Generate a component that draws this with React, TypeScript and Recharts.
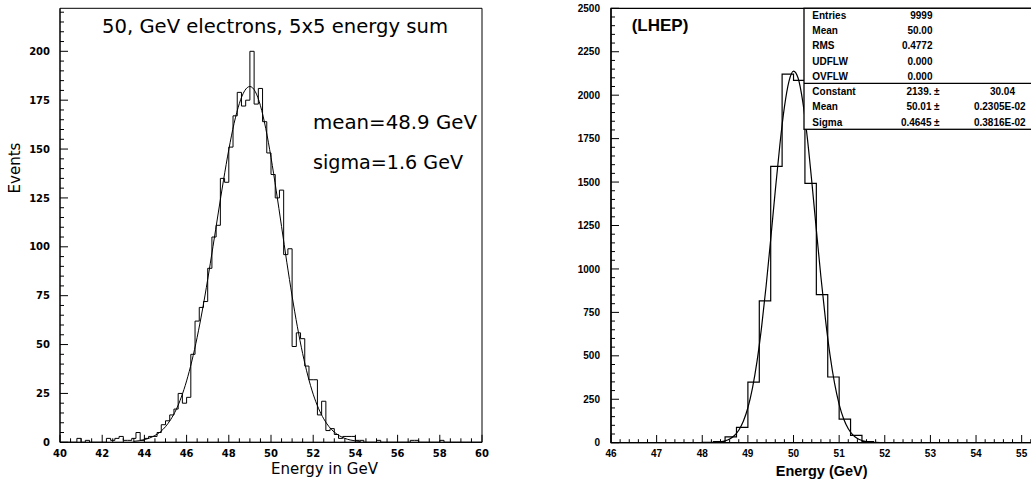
import React from 'react';
import { LineChart, Line, XAxis, YAxis, ReferenceArea } from 'recharts';

// left panel: 50 GeV electrons, 5x5 sum, 0.2 GeV bins from 40 to 60
const leftBinStart = 40;
const leftBinWidth = 0.2;
const leftCounts = [
  0, 0, 0, 0, 2, 0, 1, 0, 0, 0,
  0, 2, 1, 2, 3, 1, 1, 2, 5, 1,
  2, 3, 3, 5, 9, 11, 14, 17, 25, 20,
  23, 45, 62, 69, 72, 89, 105, 111, 135, 133,
  151, 167, 179, 172, 175, 200, 173, 181, 164, 148,
  137, 125, 129, 96, 99, 49, 56, 53, 39, 32,
  32, 14, 21, 6, 7, 4, 2, 3, 3, 3,
  1, 1, 0, 0, 0, 1, 0, 0, 0, 0,
  0, 0, 0, 1, 1, 0, 0, 0, 0, 0,
  1, 0, 0, 0, 0, 0, 0, 0, 0, 0,
];

// fitted curve
const leftFitX = [
  43.5, 43.75, 44, 44.25, 44.5, 44.75, 45, 45.25, 45.5, 45.75,
  46, 46.25, 46.5, 46.75, 47, 47.25, 47.5, 47.75, 48, 48.25,
  48.5, 48.75, 49, 49.25, 49.5, 49.75, 50, 50.25, 50.5, 50.75,
  51, 51.25, 51.5, 51.75, 52, 52.25, 52.5, 52.75, 53, 53.25,
  53.5, 53.75, 54, 54.25,
];
const leftFitY = [
  0.5, 0.8, 1.4, 2.2, 3.5, 5.3, 8.0, 11.7, 16.6, 23.1,
  31.4, 41.6, 53.7, 67.7, 83.3, 100.1, 117.3, 134.1, 149.7, 163.1,
  173.3, 179.8, 182, 179.5, 172.2, 160.6, 145.7, 128.6, 110.4, 92.1,
  74.8, 59.1, 45.4, 33.9, 24.6, 17.4, 12.0, 8.0, 5.2, 3.3,
  2.0, 1.2, 0.7, 0.4,
];

const leftXLabels = [40, 42, 44, 46, 48, 50, 52, 54, 56, 58, 60];
const leftYLabels = [0, 25, 50, 75, 100, 125, 150, 175, 200];

// right panel: (LHEP), 0.25 GeV bins from 46 to 56
const rightBinStart = 46;
const rightBinWidth = 0.25;
const rightCounts = [
  0, 0, 0, 0, 0, 0, 0, 1, 2, 6,
  33, 88, 349, 816, 1590, 2121, 2085, 1492, 852, 378,
  136, 42, 6, 1, 1, 0, 0, 0, 0, 0,
  0, 0, 0, 0, 0, 0, 0, 0, 0, 0,
];

const rightFitX = [
  48.0, 48.1, 48.2, 48.3, 48.4, 48.5, 48.6, 48.7, 48.8, 48.9,
  49.0, 49.1, 49.2, 49.3, 49.4, 49.5, 49.6, 49.7, 49.8, 49.9,
  50.0, 50.1, 50.2, 50.3, 50.4, 50.5, 50.6, 50.7, 50.8, 50.9,
  51.0, 51.1, 51.2, 51.3, 51.4, 51.5, 51.6, 51.7, 51.8, 51.9,
  52.0,
];
const rightFitY = [
  0.2, 0.5, 1.1, 2.4, 5.3, 10.8, 21.3, 40.1, 71.9, 123,
  201, 314, 468, 665, 903, 1171, 1449, 1712, 1931, 2080,
  2139, 2099, 1967, 1760, 1504, 1226, 955, 710, 504, 341,
  221, 136, 80, 45, 24, 12.5, 6.1, 2.9, 1.3, 0.55,
  0.22,
];

const rightXLabels = [46, 47, 48, 49, 50, 51, 52, 53, 54, 55];
const rightYLabels = [0, 250, 500, 750, 1000, 1250, 1500, 1750, 2000, 2250, 2500];

const statsLabels = ['Entries', 'Mean', 'RMS', 'UDFLW', 'OVFLW'];
const statsValues = ['9999', '50.00', '0.4772', '0.000', '0.000'];
const fitLabels = ['Constant', 'Mean', 'Sigma'];
const fitValues = ['2139.', '50.01', '0.4645'];
const fitErrors = ['30.04', '0.2305E-02', '0.3816E-02'];

const toSteps = (start: number, width: number, counts: number[]) => {
  const pts = counts.map((c, i) => ({ x: +(start + i * width).toFixed(3), y: c }));
  pts.push({ x: +(start + counts.length * width).toFixed(3), y: counts[counts.length - 1] });
  return pts;
};

const toPoints = (xs: number[], ys: number[]) => xs.map((x, i) => ({ x, y: ys[i] }));

const tickRange = (from: number, to: number, step: number) => {
  const out: number[] = [];
  const n = Math.round((to - from) / step);
  for (let i = 0; i <= n; i++) out.push(+(from + i * step).toFixed(3));
  return out;
};

const isIn = (list: number[], v: number) => list.some((l) => Math.abs(l - v) < 1e-6);

const makeXTick = (labels: number[], major: number, minor: number, font: any) => (props: any) => {
  const { x, y, payload } = props;
  const v = payload.value;
  const big = isIn(labels, v);
  return (
    <g>
      <line x1={x} x2={x} y1={y} y2={y - (big ? major : minor)} stroke="#000" strokeWidth={1} />
      {big && (
        <text x={x} y={y + 14.5} textAnchor="middle" fill="#000" {...font}>
          {v}
        </text>
      )}
    </g>
  );
};

const makeYTick = (labels: number[], major: number, minor: number, gap: number, font: any) => (props: any) => {
  const { x, y, payload } = props;
  const v = payload.value;
  const big = isIn(labels, v);
  return (
    <g>
      <line x1={x} x2={x + (big ? major : minor)} y1={y} y2={y} stroke="#000" strokeWidth={1} />
      {big && (
        <text x={x - gap} y={y + 3.6} textAnchor="end" fill="#000" {...font}>
          {v}
        </text>
      )}
    </g>
  );
};

const leftFont = { fontFamily: 'DejaVu Sans', fontWeight: 'bold', fontSize: 10 };
const rightFont = { fontFamily: 'Liberation Sans', fontWeight: 'bold', fontSize: 10 };

const leftHist = toSteps(leftBinStart, leftBinWidth, leftCounts);
const leftFit = toPoints(leftFitX, leftFitY);
const rightHist = toSteps(rightBinStart, rightBinWidth, rightCounts);
const rightFit = toPoints(rightFitX, rightFitY);

const statsFont = { fontFamily: 'Liberation Sans', fontWeight: 'bold' as const, fontSize: 10 };

export default function App() {
  const rowY = [19.3, 34.3, 49.3, 64.6, 79.9];
  const fitRowY = [94.9, 110.3, 125.9];

  return (
    <div style={{ position: 'absolute', left: 0, top: 0, width: 1031, height: 485, overflow: 'hidden', background: '#fff' }}>
      <div style={{ position: 'absolute', left: 0, top: 0 }}>
        <LineChart width={500} height={485} margin={{ top: 8.3, right: 18, bottom: 0, left: 0 }}>
          <XAxis
            type="number"
            dataKey="x"
            domain={[40, 60]}
            ticks={tickRange(40, 60, 0.5)}
            interval={0}
            tick={makeXTick(leftXLabels, 7.5, 4, leftFont)}
            tickLine={false}
            tickSize={0}
            tickMargin={0}
            height={42.7}
            axisLine={{ stroke: '#000' }}
            allowDataOverflow
          />
          <YAxis
            type="number"
            domain={[0, 222]}
            ticks={tickRange(0, 220, 5)}
            interval={0}
            tick={makeYTick(leftYLabels, 8, 4, 10, leftFont)}
            tickLine={false}
            tickSize={0}
            tickMargin={0}
            width={60}
            axisLine={{ stroke: '#000' }}
            allowDataOverflow
          />
          <ReferenceArea x1={40} x2={60} y1={0} y2={222} fill="none" stroke="#000" strokeWidth={1} />
          <Line data={leftHist} dataKey="y" type="stepAfter" stroke="#000" strokeWidth={1} dot={false} activeDot={false} isAnimationActive={false} />
          <Line data={leftFit} dataKey="y" type="monotone" stroke="#000" strokeWidth={1} dot={false} activeDot={false} isAnimationActive={false} />
        </LineChart>
      </div>

      <div style={{ position: 'absolute', left: 540, top: 0 }}>
        <LineChart width={540} height={485} margin={{ top: 8.3, right: 12.7, bottom: 0, left: 0 }}>
          <XAxis
            type="number"
            dataKey="x"
            domain={[46, 56]}
            ticks={tickRange(46, 56, 0.2)}
            interval={0}
            tick={makeXTick(rightXLabels, 7.7, 3.5, rightFont)}
            tickLine={false}
            tickSize={0}
            tickMargin={0}
            height={42.3}
            axisLine={{ stroke: '#000', strokeWidth: 1.3 }}
            allowDataOverflow
          />
          <YAxis
            type="number"
            domain={[0, 2500]}
            ticks={tickRange(0, 2500, 50)}
            interval={0}
            tick={makeYTick(rightYLabels, 8, 4, 11, rightFont)}
            tickLine={false}
            tickSize={0}
            tickMargin={0}
            width={71}
            axisLine={{ stroke: '#000', strokeWidth: 1.3 }}
            allowDataOverflow
          />
          <ReferenceArea x1={46} x2={56} y1={0} y2={2500} fill="none" stroke="#000" strokeWidth={1.3} />
          <Line data={rightHist} dataKey="y" type="stepAfter" stroke="#000" strokeWidth={1.2} dot={false} activeDot={false} isAnimationActive={false} />
          <Line data={rightFit} dataKey="y" type="monotone" stroke="#000" strokeWidth={1.2} dot={false} activeDot={false} isAnimationActive={false} />
        </LineChart>
      </div>

      <svg width={1031} height={485} style={{ position: 'absolute', left: 0, top: 0, pointerEvents: 'none' }}>
        {/* left panel annotations */}
        <text x={102} y={32.7} fontFamily="DejaVu Sans" fontSize={19} textLength={346} lengthAdjust="spacingAndGlyphs">
          50, GeV electrons, 5x5 energy sum
        </text>
        <text x={313} y={129.3} fontFamily="DejaVu Sans" fontSize={19} textLength={164} lengthAdjust="spacingAndGlyphs">
          mean=48.9 GeV
        </text>
        <text x={313} y={169.3} fontFamily="DejaVu Sans" fontSize={19} textLength={150} lengthAdjust="spacingAndGlyphs">
          sigma=1.6 GeV
        </text>
        <text x={20} y={168} transform="rotate(-90 20 168)" textAnchor="middle" fontFamily="DejaVu Sans" fontSize={15}>
          Events
        </text>
        <text x={324.5} y={474} textAnchor="middle" fontFamily="DejaVu Sans" fontSize={15}>
          Energy in GeV
        </text>

        {/* right panel annotations */}
        <text x={631.7} y={31} fontFamily="Liberation Sans" fontWeight="bold" fontSize={17}>
          (LHEP)
        </text>
        <text x={821.7} y={476} textAnchor="middle" fontFamily="Liberation Sans" fontWeight="bold" fontSize={14.5}>
          Energy (GeV)
        </text>

        {/* stats box */}
        <rect x={804} y={8.3} width={260} height={121} fill="#fff" stroke="#000" strokeWidth={1.3} />
        <line x1={804} x2={1040} y1={83.3} y2={83.3} stroke="#000" strokeWidth={1.3} />
        {statsLabels.map((l, i) => (
          <g key={`s-${i}`}>
            <text x={812.3} y={rowY[i]} {...statsFont}>{l}</text>
            <text x={932.5} y={rowY[i]} textAnchor="end" {...statsFont}>{statsValues[i]}</text>
          </g>
        ))}
        {fitLabels.map((l, i) => (
          <g key={`f-${i}`}>
            <text x={812.3} y={fitRowY[i]} {...statsFont}>{l}</text>
            <text x={931.5} y={fitRowY[i]} textAnchor="end" {...statsFont}>{fitValues[i]}</text>
            <text x={934} y={fitRowY[i]} {...statsFont}>±</text>
            <text x={i === 0 ? 1015 : 1025.7} y={fitRowY[i]} textAnchor="end" {...statsFont}>{fitErrors[i]}</text>
          </g>
        ))}
      </svg>
    </div>
  );
}
